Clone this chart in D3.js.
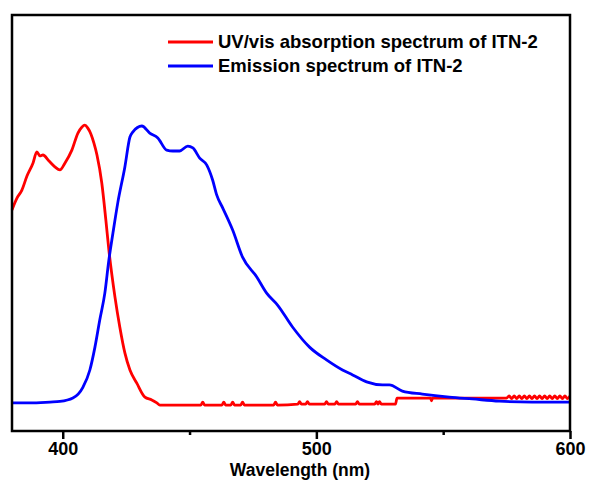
<!DOCTYPE html>
<html>
<head>
<meta charset="utf-8">
<script src="https://cdn.jsdelivr.net/npm/d3@7"></script>
<style>
  body { margin: 0; background: #fff; }
  text { font-family: "Liberation Sans", Arial, sans-serif; font-weight: bold; }
</style>
</head>
<body>
<div id="chart"></div>
<script>
var w = 592;
var h = 481;

// absorption spectrum (normalised)
var absWl = [380, 382, 383.9, 385.9, 388.3, 389.8, 391.0, 392.2, 394.6, 396.9, 398.9, 400.9, 403.6, 406.0, 407.6, 408.7,
  409.9, 411.1, 412.3, 413.5, 415.4, 417.0, 418.2, 420.6, 422.5, 424.5, 426.5, 429.2, 432.4, 435.1, 437.1, 438.3,
  454.5, 455.2, 455.9, 462.8, 463.5, 464.2, 466.3, 467.0, 467.7, 470.2, 470.9, 471.6, 483.2, 483.9, 484.6,
  492.7, 493.4, 494.1, 495.8, 496.5, 497.2, 503.3, 504.0, 504.7, 507.3, 508.0, 508.7, 515.5, 516.2, 516.9,
  523.0, 523.7, 524.3, 524.9, 525.6, 531.2, 531.8, 545.0, 545.4, 545.8, 575,
  576, 577, 578, 579, 580, 581, 582, 583, 584, 585, 586, 587, 588, 589, 590, 591, 592, 593, 594, 595, 596, 597, 598, 599, 600];
var absVal = [0.725, 0.764, 0.790, 0.836, 0.879, 0.915, 0.902, 0.905, 0.885, 0.866, 0.856, 0.879, 0.921, 0.977, 0.997, 1.003,
  0.993, 0.974, 0.944, 0.905, 0.813, 0.692, 0.593, 0.439, 0.341, 0.256, 0.200, 0.157, 0.111, 0.102, 0.092, 0.085,
  0.085, 0.095, 0.085, 0.085, 0.095, 0.085, 0.085, 0.095, 0.085, 0.085, 0.095, 0.085, 0.085, 0.095, 0.085,
  0.088, 0.096, 0.088, 0.088, 0.096, 0.088, 0.088, 0.096, 0.088, 0.088, 0.096, 0.088, 0.088, 0.096, 0.088,
  0.088, 0.096, 0.088, 0.096, 0.088, 0.088, 0.108, 0.108, 0.099, 0.108, 0.108,
  0.115, 0.106, 0.115, 0.106, 0.115, 0.106, 0.115, 0.106, 0.115, 0.106, 0.115, 0.106, 0.115, 0.106, 0.115, 0.106,
  0.115, 0.106, 0.115, 0.106, 0.115, 0.106, 0.115, 0.106, 0.115];

// emission spectrum (normalised)
var emWl = [380, 387, 395, 398.9, 404.0, 408.0, 410.7, 412.7, 414.6, 416.6, 418.2, 419.8, 421.7, 424.5, 426.5, 427.6,
  431.2, 434.3, 437.5, 441.0, 443.4, 446.1, 449.3, 451.3, 454.0, 456.8, 459.1, 460.7, 463.1, 467.0, 470.9,
  476.5, 480.4, 484.7, 490.6, 497.3, 504.0, 510.3, 514.3, 519.8, 526.1, 528.8, 533.9, 541.8, 552.4, 561.5,
  572.1, 585.1, 600];
var emVal = [0.092, 0.092, 0.095, 0.097, 0.108, 0.144, 0.200, 0.275, 0.364, 0.452, 0.561, 0.649, 0.748, 0.866, 0.964, 0.980,
  1.0, 0.977, 0.961, 0.921, 0.918, 0.918, 0.934, 0.928, 0.895, 0.872, 0.823, 0.774, 0.731, 0.659, 0.570,
  0.505, 0.452, 0.413, 0.341, 0.275, 0.233, 0.200, 0.184, 0.161, 0.151, 0.151, 0.131, 0.121, 0.111, 0.105,
  0.098, 0.095, 0.095];

var majorTicks = [400, 500, 600];
var minorTicks = [450, 550];
var legendNames = ["UV/vis absorption spectrum of ITN-2", "Emission spectrum of ITN-2"];
var colors = ["#ff0000", "#0000ff"];

// plot box (note: "top" is reserved on window, so use other names)
var padL = 12, padR = 570, padT = 15, padB = 431;

var svg = d3.select("#chart").append("svg")
  .attr("width", w)
  .attr("height", h);

var xScale = d3.scaleLinear().domain([380, 600]).range([padL, padR]);
var yScale = d3.scaleLinear().domain([0, 1.364]).range([padB, padT]);

var series = [
  absWl.map(function(d, i) { return [d, absVal[i]]; }),
  emWl.map(function(d, i) { return [d, emVal[i]]; })
];

var line = d3.line()
  .x(function(d) { return xScale(d[0]); })
  .y(function(d) { return yScale(d[1]); })
  .curve(d3.curveMonotoneX);

svg.append("g")
  .selectAll("path")
  .data(series)
  .enter()
  .append("path")
  .attr("d", line)
  .attr("fill", "none")
  .attr("stroke", function(d, i) { return colors[i]; })
  .attr("stroke-width", 2.8)
  .attr("stroke-linejoin", "round");

// frame
svg.append("rect")
  .attr("x", padL)
  .attr("y", padT)
  .attr("width", padR - padL)
  .attr("height", padB - padT)
  .attr("fill", "none")
  .attr("stroke", "#000")
  .attr("stroke-width", 2.5);

// x axis
var xAxis = d3.axisBottom(xScale)
  .tickValues(majorTicks)
  .tickSize(8)
  .tickFormat(d3.format("d"));

var gx = svg.append("g")
  .attr("transform", "translate(0," + padB + ")")
  .call(xAxis);
gx.select(".domain").remove();
gx.selectAll("line").attr("stroke", "#000").attr("stroke-width", 2.5);
gx.selectAll("text")
  .attr("fill", "#000")
  .attr("font-size", 18)
  .attr("y", 11)
  .attr("dy", "0.71em");

var gMinor = d3.axisBottom(xScale).tickValues(minorTicks).tickSize(4).tickFormat("");
var gm = svg.append("g")
  .attr("transform", "translate(0," + padB + ")")
  .call(gMinor);
gm.select(".domain").remove();
gm.selectAll("line").attr("stroke", "#000").attr("stroke-width", 2.5);

svg.append("text")
  .text("Wavelength (nm)")
  .attr("x", 300)
  .attr("y", 476)
  .attr("text-anchor", "middle")
  .attr("font-size", 17.5)
  .attr("fill", "#000");

// legend
var legend = svg.append("g")
  .selectAll("g")
  .data(legendNames)
  .enter()
  .append("g")
  .attr("transform", function(d, i) { return "translate(168," + (42 + i * 24) + ")"; });

legend.append("line")
  .attr("x1", 0)
  .attr("x2", 45)
  .attr("stroke", function(d, i) { return colors[i]; })
  .attr("stroke-width", 2.8);

legend.append("text")
  .text(function(d) { return d; })
  .attr("x", 50)
  .attr("y", 6)
  .attr("font-size", 18.5)
  .attr("fill", "#000");
</script>
</body>
</html>
